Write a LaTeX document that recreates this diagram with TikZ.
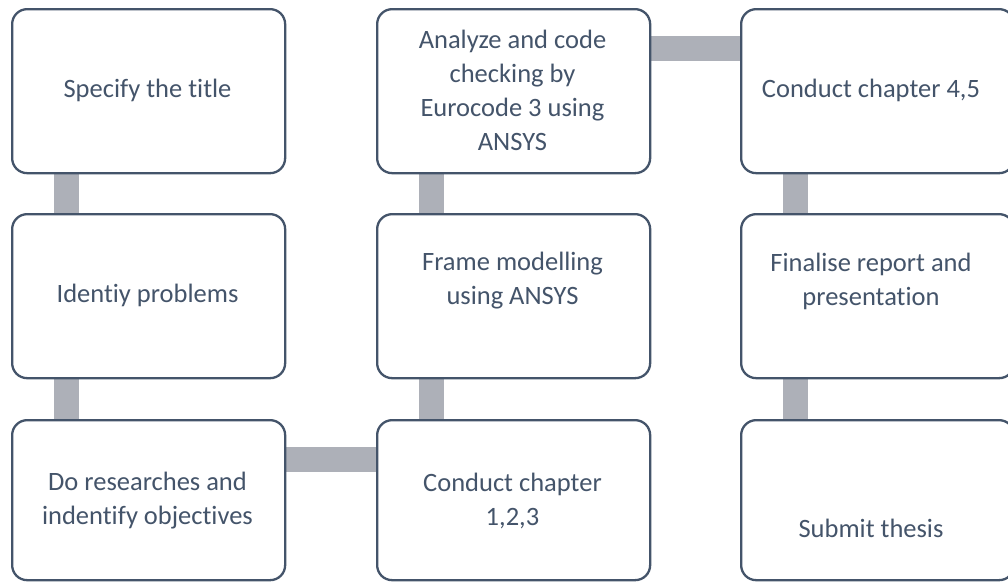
\documentclass[tikz,border=0pt]{standalone}
\usepackage{fontspec}
\setmainfont[Ligatures=NoCommon]{Carlito}
\usetikzlibrary{backgrounds}
\definecolor{edgec}{HTML}{44546A}
\definecolor{connc}{HTML}{ADB0B8}
\tikzset{
  box/.style={draw=edgec, line width=2.3pt, rounded corners=15pt, fill=white,
    minimum width=273pt, minimum height=164pt, inner sep=0pt, anchor=north west},
  lastbox/.style={box, minimum height=160pt},
  txt/.style={text=edgec, font=\fontsize{26.5pt}{34pt}\selectfont, align=center, inner sep=0pt},
  conn/.style={draw=connc, line width=25pt}
}
\begin{document}
\begin{tikzpicture}[x=1pt,y=-1pt]
\useasboundingbox (0,0) rectangle (1008,582);
% boxes
\node[box] (a1) at (11,8) {};
\node[box] (a2) at (11,213) {};
\node[lastbox] (a3) at (11,419) {};
\node[box] (b1) at (376,8) {};
\node[box] (b2) at (376,213) {};
\node[lastbox] (b3) at (376,419) {};
\node[box] (c1) at (740,8) {};
\node[box] (c2) at (740,213) {};
\node[lastbox] (c3) at (740,419) {};
% texts
\node[txt] (ta1) at (147.5,90) {Specify the title};
\node[txt] (ta2) at (147.5,295) {Identiy problems};
\node[txt] (ta3) at (147.5,501) {Do researches and\\indentify objectives};
\node[txt] (tb1) at (512.5,90) {Analyze and code\\checking by\\Eurocode 3 using\\ANSYS};
\node[txt] (tb2) at (512.5,281) {Frame modelling\\using ANSYS};
\node[txt] (tb3) at (512.5,501) {Conduct chapter\\1,2,3};
\node[txt] (tc1) at (871,90) {Conduct chapter 4,5};
\node[txt] (tc2) at (871,281) {Finalise report and\\presentation};
\node[txt] (tc3) at (871,528) {Submit thesis};
% connectors
\begin{scope}[on background layer]
\draw[conn] ([xshift=55.5pt]a1.south west) -- ([xshift=55.5pt]a2.north west);
\draw[conn] ([xshift=55.5pt]a2.south west) -- ([xshift=55.5pt]a3.north west);
\draw[conn] ([xshift=55.5pt]b3.north west) -- ([xshift=55.5pt]b2.south west);
\draw[conn] ([xshift=55.5pt]b2.north west) -- ([xshift=55.5pt]b1.south west);
\draw[conn] ([xshift=55.5pt]c1.south west) -- ([xshift=55.5pt]c2.north west);
\draw[conn] ([xshift=55.5pt]c2.south west) -- ([xshift=55.5pt]c3.north west);
\draw[conn] ([yshift=-40.5pt]a3.north east) -- ([yshift=-40.5pt]b3.north west);
\draw[conn] ([yshift=-40.5pt]b1.north east) -- ([yshift=-40.5pt]c1.north west);
\end{scope}
\end{tikzpicture}
\end{document}
